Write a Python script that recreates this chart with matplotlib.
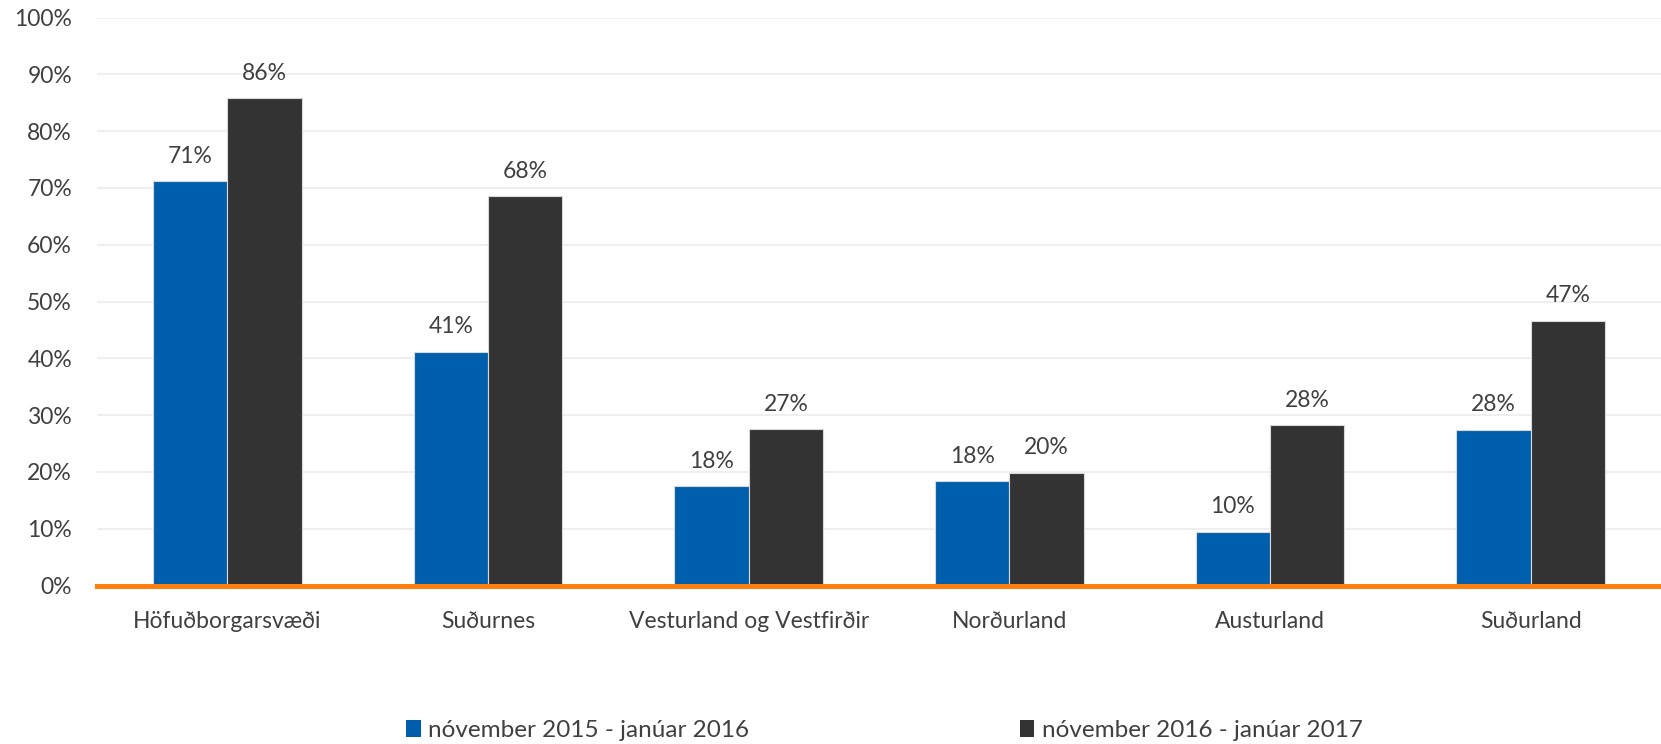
import numpy as np
import matplotlib
matplotlib.use("Agg")
import matplotlib.pyplot as plt
from matplotlib.patches import Patch

plt.rcParams['font.family'] = ['Lato', 'DejaVu Sans']

# data
regions = ["Höfuðborgarsvæði", "Suðurnes", "Vesturland og Vestfirðir",
           "Norðurland", "Austurland", "Suðurland"]
period_2015 = [0.712, 0.412, 0.175, 0.184, 0.095, 0.274]
period_2016 = [0.858, 0.685, 0.275, 0.199, 0.282, 0.466]
labels_2015 = ["71%", "41%", "18%", "18%", "10%", "28%"]
labels_2016 = ["86%", "68%", "27%", "20%", "28%", "47%"]
series_names = ["nóvember 2015 - janúar 2016", "nóvember 2016 - janúar 2017"]

blue = "#005FAD"
dark = "#333333"
orange = "#FF7F0E"
text_col = "#404040"

fig = plt.figure(figsize=(16.61, 7.44), dpi=100)
ax = fig.add_axes([0.0584, 0.213, 0.9416, 0.7634])

x = np.arange(len(regions))
w = 0.2856
b1 = ax.bar(x - w / 2, period_2015, w, color=blue, edgecolor="#d8d8d8", linewidth=0.8, zorder=3)
b2 = ax.bar(x + w / 2, period_2016, w, color=dark, edgecolor="#d8d8d8", linewidth=0.8, zorder=3)

# value labels above bars
for bars, labs in ((b1, labels_2015), (b2, labels_2016)):
    for rect, lab in zip(bars, labs):
        ax.annotate(lab, (rect.get_x() + rect.get_width() / 2, rect.get_height()),
                    xytext=(0, 18), textcoords="offset points",
                    ha="center", va="center", fontsize=16.5, color=text_col)

ax.set_xlim(-0.5, len(regions) - 0.5)
ax.set_ylim(0, 1.0)
ax.set_yticks(np.arange(0, 1.01, 0.1))
ax.set_yticklabels(["{}%".format(int(round(v * 100))) for v in np.arange(0, 1.01, 0.1)])
ax.set_xticks(x)
ax.set_xticklabels(regions)
ax.tick_params(axis="y", length=0, pad=18, labelsize=16.5, labelcolor=text_col)
ax.tick_params(axis="x", length=0, pad=18, labelsize=16.5, labelcolor=text_col)

for s in ax.spines.values():
    s.set_visible(False)
ax.yaxis.grid(True, color="#ececec", linewidth=1.2, zorder=0)
ax.set_axisbelow(True)
ax.axhline(0, color=orange, linewidth=3.6, zorder=4, clip_on=False)

# two legend entries placed separately, as in the original
for handle_col, name, xpos in ((blue, series_names[0], 0.2444), (dark, series_names[1], 0.614)):
    fig.legend([Patch(facecolor=handle_col)], [name], loc="center left",
               bbox_to_anchor=(xpos, 0.0175), frameon=False, fontsize=17.5,
               labelcolor=text_col, borderpad=0, borderaxespad=0,
               handlelength=0.6, handleheight=0.7, handletextpad=0.3)

fig.savefig("out.png", dpi=100)
